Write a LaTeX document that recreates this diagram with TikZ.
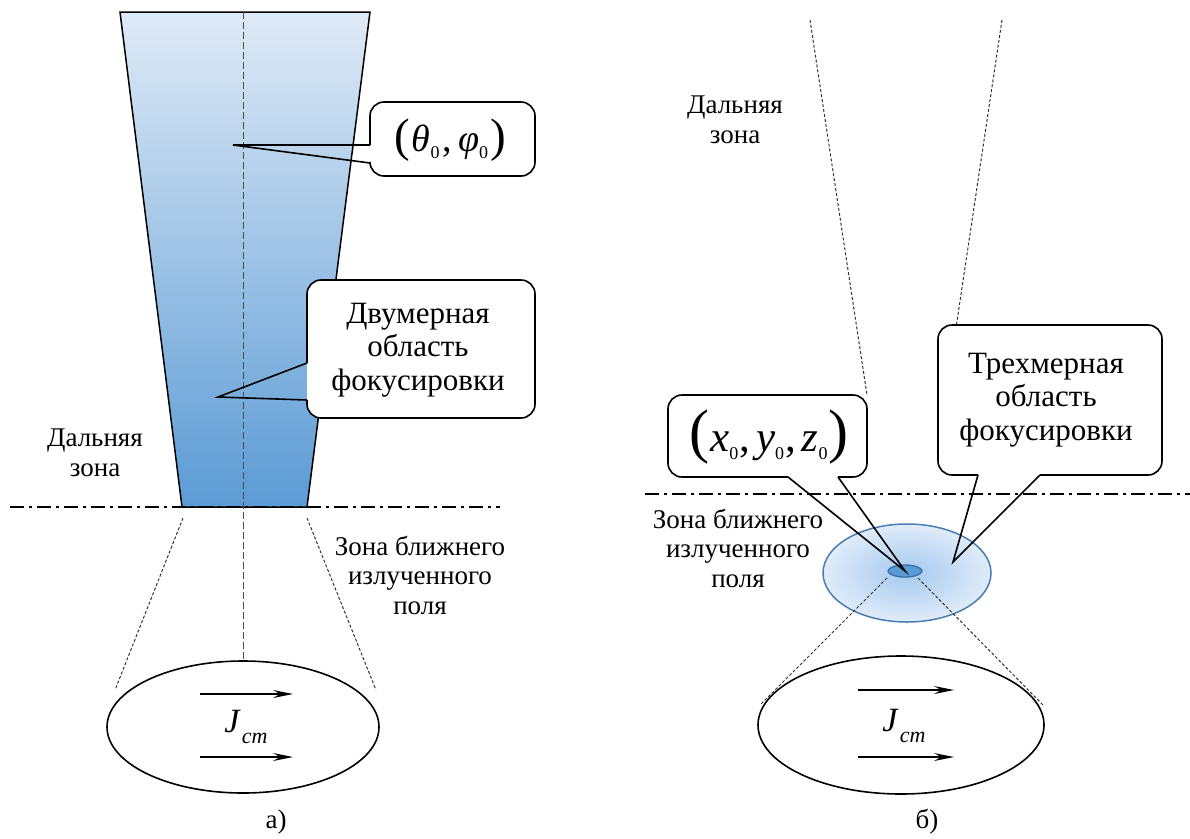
\documentclass[tikz,border=0pt]{standalone}
\usepackage{fontspec}
\setmainfont{Liberation Serif}
\usetikzlibrary{arrows.meta,shapes.geometric}
\definecolor{trTop}{HTML}{DFEAF6}
\definecolor{trBot}{HTML}{5B9BD5}
\definecolor{spotIn}{HTML}{A4C8EF}
\definecolor{spotOut}{HTML}{E0ECF9}
\definecolor{spotLine}{HTML}{4A7DB2}
\definecolor{dotFill}{HTML}{5B9BD5}
\definecolor{dotLine}{HTML}{3A6EA5}
\newcommand{\tbig}{\fontsize{47}{47}\selectfont}
\newcommand{\tmid}{\fontsize{38}{38}\selectfont}
\newcommand{\xbig}{\fontsize{60}{60}\selectfont}
\newcommand{\xmid}{\fontsize{43}{43}\selectfont}
\newcommand{\msub}[2]{\raisebox{#1}{\fontsize{18}{18}\selectfont #2}}
\begin{document}
\begin{tikzpicture}[x=1pt,y=-1pt,
  lbl/.style={font=\fontsize{27}{29.5}\selectfont, align=center, inner sep=0},
  ctext/.style={font=\fontsize{31}{33.5}\selectfont, align=center, inner sep=0},
  cbox/.style={line width=1.6pt, rounded corners=14pt},
  cptr/.style={line width=1.6pt, line join=miter},
  guide/.style={dash pattern=on 3pt off 2pt, line width=1pt, black!80},
  axisline/.style={dash pattern=on 7pt off 3pt, line width=1pt, black!70},
  zone/.style={line width=1.5pt, dash pattern=on 14pt off 5pt on 3pt off 5pt},
  cur/.style={line width=1.2pt, -{Stealth[length=20pt,width=8pt,inset=7pt]}},
  src/.style={draw, ellipse, line width=1.6pt, inner sep=0},
  jtext/.style={inner sep=0},
]
\useasboundingbox (0,0) rectangle (1190,838);

% ================= panel a =================
\coordinate (tl) at (120,12);
\coordinate (tr) at (370,12);
\coordinate (br) at (307,507);
\coordinate (bl) at (182,507);
\coordinate (tc) at (243,12);
\shade[top color=trTop, bottom color=trBot] (tl)--(tr)--(br)--(bl)--cycle;
\draw[line width=1.5pt, line join=miter] (tl)--(tr)--(br)--(bl)--cycle;

\node[src, minimum width=272pt, minimum height=132pt] (srcA) at (243,727) {};
\draw[axisline] (tc) -- (srcA.north);

\coordinate (zaL) at (10,507);
\coordinate (zaR) at (500,507);
\draw[zone] (zaL) -- (zaR);

\coordinate (gA1s) at (183,518); \coordinate (gA1e) at (115,690);
\coordinate (gA2s) at (307,518); \coordinate (gA2e) at (376,690);
\draw[guide] (gA1s) -- (gA1e);
\draw[guide] (gA2s) -- (gA2e);

\coordinate (aA1s) at (200,694); \coordinate (aA1e) at (293,694);
\coordinate (aA2s) at (200,757); \coordinate (aA2e) at (293,757);
\draw[cur] (aA1s) -- (aA1e);
\draw[cur] (aA2s) -- (aA2e);
\node[jtext] (jA) at (246,727) {\fontsize{34}{34}\selectfont\textit{J}\kern1pt\raisebox{-11pt}{\fontsize{22}{22}\selectfont\textit{cm}}};

% callout theta
\fill[white, rounded corners=14pt] (370,102) rectangle (535,176);
\draw[cbox] (370,145) -- (370,102) -- (535,102) -- (535,176) -- (370,176) -- (370,163);
\coordinate (tipTh) at (233,145);
\draw[cptr] (370,163) -- (tipTh) -- (370,145);
\node[inner sep=0] (th) at (450,140) {{\tbig(}\kern2pt{\tmid\textit{θ}}\msub{-7pt}{0}\kern3pt{\tmid,}\kern6pt{\tmid\textit{φ}}\msub{-7pt}{0}\kern2pt{\tbig)}};

% callout 2D
\fill[white, rounded corners=14pt] (307,280) rectangle (535,418);
\draw[cbox] (307,363) -- (307,280) -- (535,280) -- (535,418) -- (307,418) -- (307,400);
\coordinate (tip2D) at (218,397);
\draw[cptr] (307,400) -- (tip2D) -- (307,363);
\node[ctext] (t2D) at (418,350) {Двумерная\\область\\фокусировки};

\node[lbl] (farA) at (95,453) {Дальняя\\зона};
\node[lbl] (nearA) at (420,575) {Зона ближнего\\излученного\\поля};
\node[lbl] (capA) at (276,822) {а)};

% ================= panel b =================
\coordinate (gB1s) at (810,20); \coordinate (gB1e) at (867,395);
\coordinate (gB2s) at (1002,20); \coordinate (gB2e) at (937,455);
\draw[guide] (gB1s) -- (gB1e);
\draw[guide] (gB2s) -- (gB2e);

\coordinate (zbL) at (645,494);
\coordinate (zbR) at (1190,494);
\draw[zone] (zbL) -- (zbR);

\shade[inner color=spotIn, outer color=spotOut] (907,573) ellipse [x radius=84, y radius=49];
\draw[spotLine, line width=1.5pt] (907,573) ellipse [x radius=84, y radius=49];
\node[draw=dotLine, fill=dotFill, ellipse, line width=1.3pt, minimum width=34pt, minimum height=12pt, inner sep=0] (spot) at (905,571) {};

\node[src, minimum width=286pt, minimum height=138pt] (srcB) at (901,725) {};
\coordinate (gB3s) at (887,578); \coordinate (gB3e) at (760,705);
\coordinate (gB4s) at (918,578); \coordinate (gB4e) at (1043,705);
\draw[guide] (gB3s) -- (gB3e);
\draw[guide] (gB4s) -- (gB4e);

\coordinate (aB1s) at (858,690); \coordinate (aB1e) at (954,690);
\coordinate (aB2s) at (858,757); \coordinate (aB2e) at (954,757);
\draw[cur] (aB1s) -- (aB1e);
\draw[cur] (aB2s) -- (aB2e);
\node[jtext] (jB) at (904,726) {\fontsize{34}{34}\selectfont\textit{J}\kern1pt\raisebox{-11pt}{\fontsize{22}{22}\selectfont\textit{cm}}};

% callout xyz
\fill[white, rounded corners=14pt] (668,395) rectangle (867,477);
\draw[cbox] (788,477) -- (668,477) -- (668,395) -- (867,395) -- (867,477) -- (838,477);
\draw[cptr] (788,477) -- (spot.center) -- (838,477);
\node[inner sep=0] (xyz) at (769,437) {{\xbig(}\kern1pt{\xmid\textit{x}}\msub{-8pt}{0}\kern1pt{\xmid,}\kern6pt{\xmid\textit{y}}\msub{-8pt}{0}\kern1pt{\xmid,}\kern6pt{\xmid\textit{z}}\msub{-8pt}{0}\kern1pt{\xbig)}};

% callout 3D
\fill[white, rounded corners=14pt] (938,325) rectangle (1162,475);
\draw[cbox] (978,475) -- (938,475) -- (938,325) -- (1162,325) -- (1162,475) -- (1040,475);
\coordinate (tip3D) at (953,562);
\draw[cptr] (978,475) -- (tip3D) -- (1040,475);
\node[ctext] (t3D) at (1046,400) {Трехмерная\\область\\фокусировки};

\node[lbl] (farB) at (735,120) {Дальняя\\зона};
\node[lbl] (nearB) at (738,548) {Зона ближнего\\излученного\\поля};
\node[lbl] (capB) at (927,822) {б)};
\end{tikzpicture}
\end{document}
